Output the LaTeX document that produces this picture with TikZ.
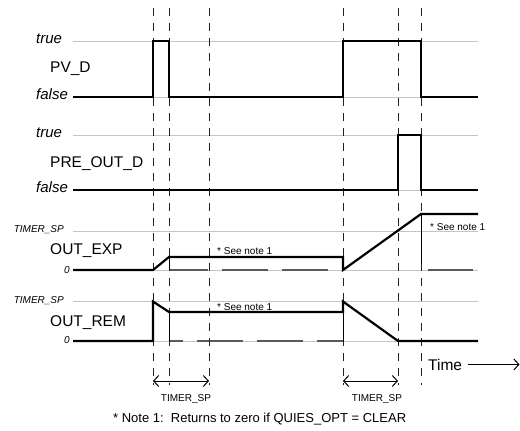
\documentclass[tikz,border=0pt]{standalone}
\usepackage{fontspec}
\setmainfont{Liberation Sans}
\usepackage{xcolor}
\definecolor{clGrid}{HTML}{C4C4C4}
\definecolor{clZero}{HTML}{5A5A5A}
\definecolor{clMark}{HTML}{222222}
\usetikzlibrary{arrows.meta}

\begin{document}
\begin{tikzpicture}[x=1pt,y=-1pt,every node/.style={inner sep=0pt},
  big/.style={font=\fontsize{15.5}{18}\selectfont},
  lvl/.style={font=\fontsize{15}{18}\selectfont\itshape},
  lvlsmall/.style={font=\fontsize{10}{12}\selectfont\itshape},
  small/.style={font=\fontsize{10}{12}\selectfont},
  grid/.style={clGrid,line width=0.9pt},
  zero/.style={clZero,line width=1.8pt},
  sig/.style={line width=2.2pt,line join=miter},
  marker/.style={clMark,line width=0.8pt,dash pattern=on 8pt off 7pt},
  span/.style={line width=1pt,{Straight Barb[length=5pt,width=11pt]}-{Straight Barb[length=5pt,width=11pt]}}]
  \useasboundingbox (0,0) rectangle (520,431);
  % level lines
  \foreach \y in {41,97,135,190,231,270,301,341} \draw[grid] (73,\y) -- (478,\y);
  \draw[zero,dash pattern=on 46pt off 14pt,dash phase=7pt] (169,270) -- (343,270);
  \draw[zero] (428,270) -- (473,270);
  \draw[zero,dash pattern=on 46pt off 14pt,dash phase=32pt] (169,341) -- (343,341);
  % time markers
  \foreach \x in {153,169,209,343,398,421} \draw[marker] (\x,8) -- (\x,385);
  \draw[line width=0.8pt] (169,257) -- (169,270) (421,214) -- (421,264)
    (169,312) -- (169,341) (343,312) -- (343,341);
  % signals
  \draw[sig] (73,97) -- (153,97) -- (153,41) -- (169,41) -- (169,97) -- (343,97)
    -- (343,41) -- (421,41) -- (421,97) -- (478,97);
  \draw[sig] (73,190) -- (398,190) -- (398,135) -- (421,135) -- (421,190) -- (478,190);
  \draw[sig] (73,270) -- (153,270) -- (169,257) -- (343,257) -- (343,270) -- (421,214) -- (478,214);
  \draw[sig] (73,341) -- (153,341) -- (153,301.5) -- (169,312) -- (343,312) -- (343,301.5)
    -- (398,341) -- (478,341);
  % labels
  \node[lvl,anchor=base west] (pvTrue) at (36,43.5) {true};
  \node[lvl,anchor=base west] (pvFalse) at (36,99) {false};
  \node[big,anchor=base west] (pvName) at (50,72.5) {PV\_D};
  \node[lvl,anchor=base west] (preTrue) at (36,137.5) {true};
  \node[lvl,anchor=base west] (preFalse) at (36,192.5) {false};
  \node[big,anchor=base west] (preName) at (50,167) {PRE\_OUT\_D};
  \node[lvlsmall,anchor=base east] (expTop) at (64,232) {TIMER\_SP};
  \node[lvlsmall,anchor=base east] (expZero) at (70,273) {0};
  \node[big,anchor=base west] (expName) at (50,254) {OUT\_EXP};
  \node[lvlsmall,anchor=base east] (remTop) at (64,303.5) {TIMER\_SP};
  \node[lvlsmall,anchor=base east] (remZero) at (70,343) {0};
  \node[big,anchor=base west] (remName) at (50,326) {OUT\_REM};
  \node[small,anchor=base west] (expNote) at (217,254) {* See note 1};
  \node[small,anchor=base west] (remNote) at (217,310) {* See note 1};
  \node[small,anchor=base west] (endNote) at (430,230) {* See note 1};
  % spans
  \coordinate (spanA1) at (153,381); \coordinate (spanA2) at (209,381);
  \coordinate (spanB1) at (343,381); \coordinate (spanB2) at (398,381);
  \draw[span] (spanA1) -- (spanA2);
  \draw[span] (spanB1) -- (spanB2);
  \node[small,anchor=base] (spanAText) at (186,401) {TIMER\_SP};
  \node[small,anchor=base] (spanBText) at (377,401) {TIMER\_SP};
  \node[big,anchor=base west] (time) at (428,370) {Time};
  \coordinate (timeEnd) at (519.5,364.5);
  \draw[line width=1pt,-{Straight Barb[length=5pt,width=11pt]}] ([xshift=6pt]time.east) -- (timeEnd |- time.east);
  \node[anchor=base west,font=\fontsize{13}{15}\selectfont] (note) at (113,422.5)
    {* Note 1:\ \ Returns to zero if QUIES\_OPT = CLEAR};
\end{tikzpicture}
\end{document}
